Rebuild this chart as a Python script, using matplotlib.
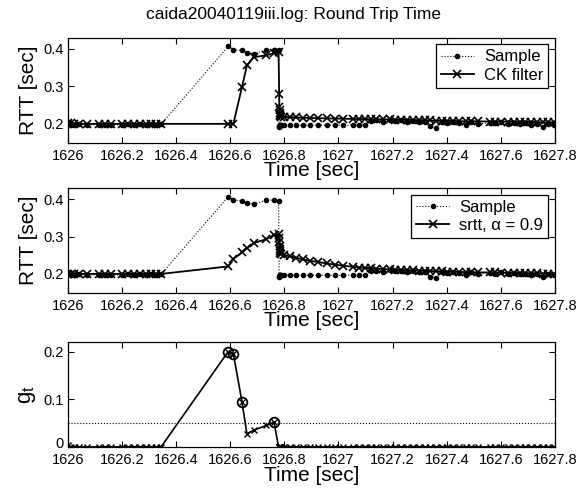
import matplotlib
matplotlib.use('Agg')
import matplotlib.pyplot as plt
import matplotlib.transforms as mtransforms
import numpy as np

# rtt trace around the route change
time = [
    # before the jump
    1626.002, 1626.012, 1626.024, 1626.040, 1626.070, 1626.116, 1626.138, 1626.160,
    1626.200, 1626.222, 1626.246, 1626.268, 1626.288, 1626.308, 1626.328, 1626.345,
    # high rtt
    1626.593, 1626.612, 1626.644, 1626.662, 1626.687, 1626.734, 1626.762,
    # burst when it drops back
    1626.779, 1626.781, 1626.782, 1626.783, 1626.784, 1626.785, 1626.786, 1626.788,
    # after
    1626.798, 1626.820, 1626.845, 1626.869, 1626.894, 1626.925, 1626.956, 1626.986,
    1627.017, 1627.054, 1627.075, 1627.098, 1627.120, 1627.140, 1627.165, 1627.190,
    1627.210, 1627.232, 1627.255, 1627.275, 1627.298, 1627.318, 1627.338, 1627.360,
    1627.382, 1627.400, 1627.425, 1627.445, 1627.470, 1627.490, 1627.515, 1627.560,
    1627.580, 1627.600, 1627.625, 1627.648, 1627.670, 1627.690, 1627.712, 1627.735,
    1627.755, 1627.775, 1627.795,
]

sample = [
    0.205, 0.198, 0.196, 0.199, 0.197, 0.198, 0.197, 0.196,
    0.198, 0.199, 0.198, 0.199, 0.198, 0.199, 0.198, 0.199,
    0.407, 0.398, 0.396, 0.390, 0.387, 0.398, 0.398,
    0.396, 0.191, 0.194, 0.196, 0.195, 0.197, 0.196, 0.197,
    0.196, 0.197, 0.196, 0.197, 0.196, 0.197, 0.196, 0.197,
    0.196, 0.197, 0.196, 0.197, 0.207, 0.209, 0.206, 0.210,
    0.207, 0.209, 0.205, 0.208, 0.206, 0.204, 0.193, 0.190,
    0.205, 0.203, 0.206, 0.202, 0.198, 0.204, 0.200, 0.203,
    0.201, 0.204, 0.200, 0.202, 0.199, 0.201, 0.198, 0.200,
    0.192, 0.200, 0.196,
]

ck_filter = [
    0.203, 0.201, 0.200, 0.200, 0.200, 0.200, 0.200, 0.200,
    0.200, 0.200, 0.200, 0.200, 0.200, 0.200, 0.200, 0.200,
    0.200, 0.200, 0.299, 0.356, 0.378, 0.383, 0.389,
    0.392, 0.281, 0.246, 0.236, 0.228, 0.224, 0.221, 0.219,
    0.219, 0.218, 0.217, 0.216, 0.216, 0.215, 0.215, 0.214,
    0.214, 0.213, 0.213, 0.213, 0.212, 0.212, 0.212, 0.212,
    0.211, 0.211, 0.211, 0.210, 0.210, 0.210, 0.209, 0.208,
    0.208, 0.208, 0.208, 0.207, 0.207, 0.207, 0.207, 0.206,
    0.206, 0.206, 0.206, 0.206, 0.205, 0.205, 0.205, 0.205,
    0.204, 0.204, 0.204,
]

srtt = [
    0.201, 0.200, 0.200, 0.200, 0.200, 0.200, 0.200, 0.200,
    0.200, 0.200, 0.200, 0.200, 0.200, 0.200, 0.200, 0.200,
    0.220, 0.240, 0.258, 0.269, 0.283, 0.293, 0.305,
    0.306, 0.295, 0.285, 0.276, 0.268, 0.262, 0.257, 0.253,
    0.251, 0.247, 0.243, 0.239, 0.235, 0.232, 0.228, 0.225,
    0.222, 0.219, 0.217, 0.216, 0.215, 0.214, 0.213, 0.212,
    0.211, 0.211, 0.210, 0.210, 0.209, 0.209, 0.208, 0.207,
    0.207, 0.206, 0.206, 0.205, 0.205, 0.205, 0.204, 0.204,
    0.204, 0.203, 0.203, 0.203, 0.202, 0.202, 0.202, 0.202,
    0.201, 0.201, 0.201,
]

g_t = [
    0.003, 0.0, 0.0, 0.0, 0.0, 0.0, 0.0, 0.0,
    0.0, 0.0, 0.0, 0.0, 0.0, 0.0, 0.0, 0.0,
    0.200, 0.195, 0.094, 0.027, 0.035, 0.045, 0.052,
    0.0, 0.0, 0.0, 0.0, 0.0, 0.0, 0.0, 0.0,
    0.0, 0.0, 0.0, 0.0, 0.0, 0.0, 0.0, 0.0,
    0.0, 0.0, 0.0, 0.0, 0.0, 0.0, 0.0, 0.0,
    0.0, 0.0, 0.0, 0.0, 0.0, 0.0, 0.0, 0.0,
    0.0, 0.0, 0.0, 0.0, 0.0, 0.0, 0.0, 0.0,
    0.0, 0.0, 0.0, 0.0, 0.0, 0.0, 0.0, 0.0,
    0.0, 0.0, 0.0,
]

threshold = 0.05
x_ticks = [1626, 1626.2, 1626.4, 1626.6, 1626.8, 1627, 1627.2, 1627.4, 1627.6, 1627.8]
x_labels = ['1626', '1626.2', '1626.4', '1626.6', '1626.8', '1627', '1627.2', '1627.4', '1627.6', '1627.8']
rtt_ticks = [0.2, 0.3, 0.4]
rtt_labels = ['0.2', '0.3', '0.4']
g_ticks = [0, 0.1, 0.2]
g_labels = ['0', '0.1', '0.2']

plt.rcParams['font.family'] = ['Liberation Sans', 'DejaVu Sans']
plt.rcParams['axes.linewidth'] = 0.9

fig = plt.figure(figsize=(5.86, 4.9), dpi=100)
ax1 = fig.add_axes([0.1155, 0.709, 0.8316, 0.214])
ax2 = fig.add_axes([0.1155, 0.403, 0.8316, 0.213])
ax3 = fig.add_axes([0.1155, 0.088, 0.8316, 0.214])


def style_axes(ax, yticks, ylabels):
    ax.set_xlim(1626, 1627.8)
    ax.set_xticks(x_ticks)
    ax.set_xticklabels(x_labels)
    ax.set_yticks(yticks)
    ax.set_yticklabels(ylabels)
    ax.tick_params(direction='in', top=True, right=True, length=4, width=0.8,
                   labelsize=10.5, pad=3)
    ax.tick_params(axis='x', pad=4.5)
    ax.set_xlabel('Time [sec]', fontsize=15, labelpad=-1)


# top: sample vs CK filter
ax1.plot(time, sample, ':', color='black', lw=0.8, marker='o', ms=3, label='Sample')
ax1.plot(time, ck_filter, '-', color='black', lw=1.3, marker='x', ms=6, mew=1.2, label='CK filter')
ax1.set_ylim(0.15, 0.43)
style_axes(ax1, rtt_ticks, rtt_labels)
ax1.set_ylabel('RTT [sec]', fontsize=15, labelpad=4)
leg = ax1.legend(loc='upper right', fontsize=12, fancybox=False, edgecolor='black',
                 framealpha=1, borderaxespad=0.4, handlelength=2.0, labelspacing=0.2,
                 borderpad=0.3, handletextpad=0.6)
leg.get_frame().set_linewidth(0.9)

# title sits over the middle of the figure, not the axes
fig.text(0.5, 0.971, 'caida20040119iii.log: Round Trip Time', fontsize=12.5,
         ha='center', va='center')

# middle: sample vs srtt
ax2.plot(time, sample, ':', color='black', lw=0.8, marker='o', ms=3, label='Sample')
ax2.plot(time, srtt, '-', color='black', lw=1.3, marker='x', ms=6, mew=1.2, label='srtt, α = 0.9')
ax2.set_ylim(0.15, 0.43)
style_axes(ax2, rtt_ticks, rtt_labels)
ax2.set_ylabel('RTT [sec]', fontsize=15, labelpad=4)
leg = ax2.legend(loc='upper right', fontsize=12, fancybox=False, edgecolor='black',
                 framealpha=1, borderaxespad=0.4, handlelength=2.0, labelspacing=0.2,
                 borderpad=0.3, handletextpad=0.6)
leg.get_frame().set_linewidth(0.9)

# bottom: g_t with threshold, circled where it is crossed
g_arr = np.array(g_t)
t_arr = np.array(time)
above = g_arr > threshold
ax3.axhline(threshold, color='black', ls=':', lw=0.8)
ax3.plot(time, g_t, '-', color='black', lw=1.2, marker='x', ms=4, mew=1.0)
ax3.plot(t_arr[above], g_arr[above], 'o', mfc='none', mec='black', ms=7, mew=1.3)
ax3.set_ylim(0, 0.22)
style_axes(ax3, g_ticks, g_labels)
ax3.set_ylabel(r'$\mathregular{g_t}$', fontsize=16, labelpad=4)

# lift the "0" a little so it clears the 1626 below it
zero_lbl = ax3.get_yticklabels()[0]
zero_lbl.set_transform(zero_lbl.get_transform() +
                       mtransforms.ScaledTranslation(0, 3 / 72, fig.dpi_scale_trans))

fig.savefig('out.png', dpi=100, facecolor='white')
